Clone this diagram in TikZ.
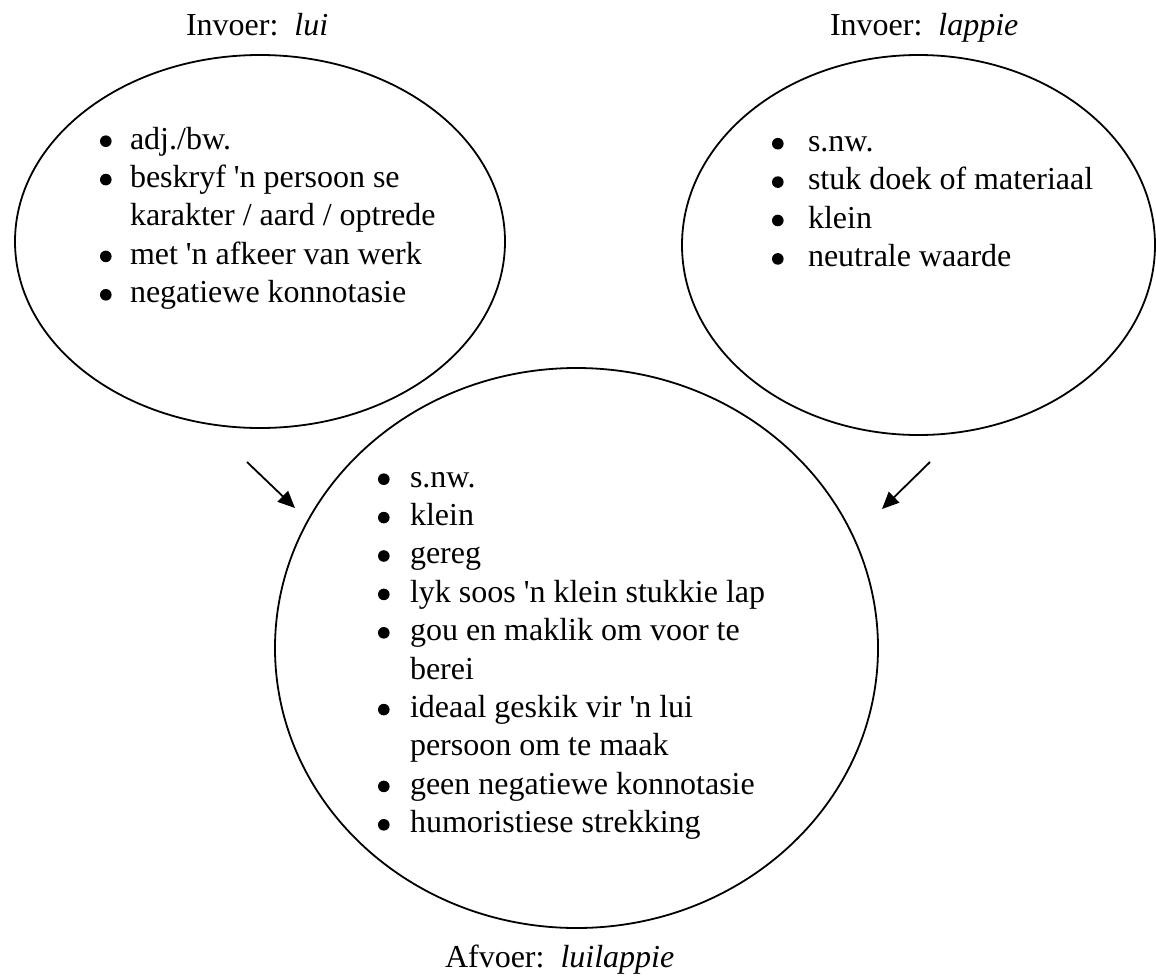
\documentclass[tikz,border=0pt]{standalone}
\usepackage{fontspec}
\setmainfont{Liberation Serif}[Ligatures=TeXOff]
\usetikzlibrary{shapes.geometric,arrows.meta}
\newcommand\bul{\tikz[baseline=0pt]\fill (0pt,7.8pt) circle (5.8pt);}
\begin{document}
\begin{tikzpicture}[x=1pt,y=-1pt,
  ell/.style={draw, ellipse, line width=1.8pt, inner sep=0pt, outer sep=0pt},
  txt/.style={anchor=base west, inner sep=0pt, outer sep=0pt, font=\fontsize{32}{38.4}\selectfont},
  arr/.style={line width=1.8pt, -{Triangle[length=17pt,width=15pt]}}]
\useasboundingbox (0,0) rectangle (1156,975);

% ellipses
\node[ell, minimum width=490pt, minimum height=373pt] (lui) at (260,241.5) {};
\node[ell, minimum width=473pt, minimum height=380pt] (lappie) at (918.5,245) {};
\node[ell, minimum width=603pt, minimum height=560pt] (luilappie) at (576.5,648) {};

% titles
\node[txt] (tlui) at (186,35) {Invoer:\ \ \textit{lui}};
\node[txt] (tlappie) at (830,35) {Invoer:\ \ \textit{lappie}};
\node[txt] (tout) at (445,967) {Afvoer:\ \ \textit{luilappie}};

% lists
\node[txt] (llui) at (100,149) {\begin{tabular}[t]{@{}p{30pt}@{}l@{}}
\bul & adj./bw.\\
\bul & beskryf 'n persoon se\\
 & karakter / aard / optrede\\
\bul & met 'n afkeer van werk\\
\bul & negatiewe konnotasie
\end{tabular}};

\node[txt] (llappie) at (772,151.5) {\begin{tabular}[t]{@{}p{36pt}@{}l@{}}
\bul & s.nw.\\
\bul & stuk doek of materiaal\\
\bul & klein\\
\bul & neutrale waarde
\end{tabular}};

\node[txt] (lout) at (378,487) {\begin{tabular}[t]{@{}p{32pt}@{}l@{}}
\bul & s.nw.\\
\bul & klein\\
\bul & gereg\\
\bul & lyk soos 'n klein stukkie lap\\
\bul & gou en maklik om voor te\\
 & berei\\
\bul & ideaal geskik vir 'n lui\\
 & persoon om te maak\\
\bul & geen negatiewe konnotasie\\
\bul & humoristiese strekking
\end{tabular}};

% arrows
\coordinate (a1s) at (247,462);
\coordinate (a1e) at (295,508);
\coordinate (a2s) at (930,462);
\coordinate (a2e) at (882,509);
\draw[arr] (a1s) -- (a1e);
\draw[arr] (a2s) -- (a2e);
\end{tikzpicture}
\end{document}
